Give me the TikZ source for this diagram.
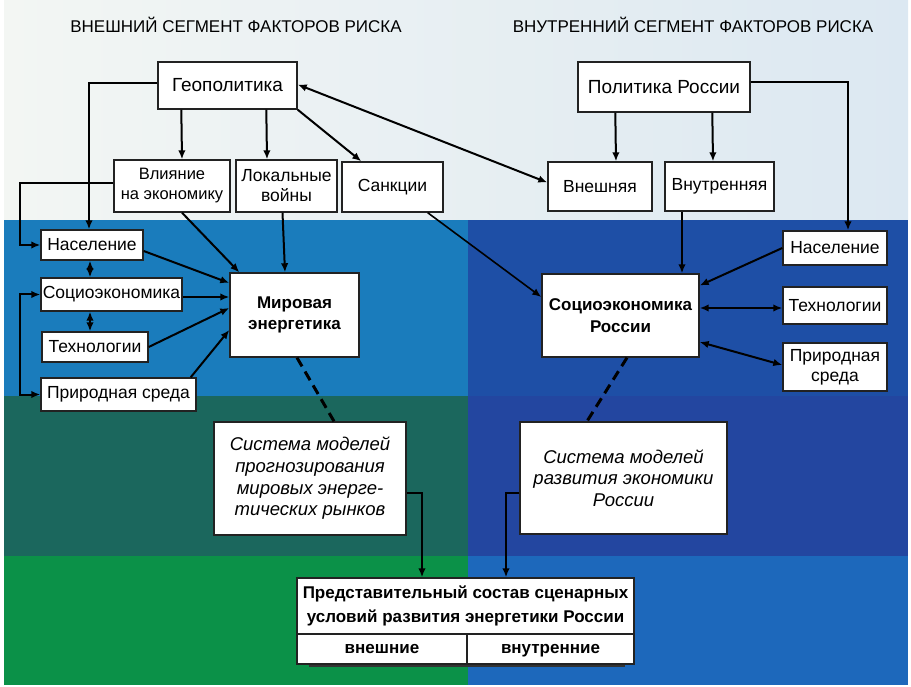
\documentclass[tikz,border=0pt]{standalone}
\usepackage{fontspec}
\setmainfont{Liberation Sans}
\usetikzlibrary{arrows.meta,calc}

\definecolor{topL}{HTML}{F3F6F3}
\definecolor{topR}{HTML}{DCE8F2}
\definecolor{midL}{HTML}{1A7CBC}
\definecolor{midR}{HTML}{1E4FA6}
\definecolor{lowL}{HTML}{1B675D}
\definecolor{lowR}{HTML}{2346A0}
\definecolor{botL}{HTML}{0B9148}
\definecolor{botR}{HTML}{1D68BB}
\definecolor{frame}{HTML}{222222}

\tikzset{
  box/.style={draw=frame, line width=1.4pt, fill=white, inner sep=0pt, align=center},
  txt/.style={font=\fontsize{17.5}{20}\selectfont},
  big/.style={font=\fontsize{19}{22}\selectfont},
  bold/.style={font=\fontsize{17}{21.7}\selectfont\bfseries},
  model/.style={font=\fontsize{18.5}{21.7}\selectfont\itshape},
  title/.style={font=\fontsize{17}{20}\selectfont},
  tip/.tip={Latex[length=9pt,width=7.5pt]},
  arr/.style={-tip, line width=2pt},
  arrtwo/.style={tip-tip, line width=2pt},
  link/.style={line width=3pt, dash pattern=on 10pt off 6pt},
}

\begin{document}
\begin{tikzpicture}[x=1pt,y=-1pt]
\useasboundingbox (0,0) rectangle (911,687);

% background bands
\shade[left color=topL, right color=topR] (4,0) rectangle (908,220);
\fill[midL] (4,220) rectangle (468,396);
\fill[midR] (468,220) rectangle (908,396);
\fill[lowL] (4,396) rectangle (468,556);
\fill[lowR] (468,396) rectangle (908,556);
\fill[botL] (4,556) rectangle (468,685);
\fill[botR] (468,556) rectangle (908,685);

% segment titles
\node[title] (tL) at (236,25) {ВНЕШНИЙ СЕГМЕНТ ФАКТОРОВ РИСКА};
\node[title] (tR) at (693,25) {ВНУТРЕННИЙ СЕГМЕНТ ФАКТОРОВ РИСКА};

% external segment
\node[box,big,minimum width=139pt,minimum height=47pt] (geo) at (227.5,85.5) {Геополитика};
\node[box,txt,minimum width=116pt,minimum height=52pt,font=\fontsize{16.5}{20}\selectfont] (vli) at (172,186) {Влияние\\на экономику};
\node[box,txt,minimum width=101pt,minimum height=52pt] (lok) at (286.5,186) {Локальные\\войны};
\node[box,txt,minimum width=101pt,minimum height=50pt] (san) at (392.5,187) {Санкции};
\node[box,txt,minimum width=102pt,minimum height=30pt] (nasL) at (92,245) {Население};
\node[box,txt,minimum width=141pt,minimum height=33pt] (socL) at (111.5,294.5) {Социоэкономика};
\node[box,txt,minimum width=106pt,minimum height=30pt] (tehL) at (95,347) {Технологии};
\node[box,txt,minimum width=155pt,minimum height=33pt] (priL) at (118.5,394.5) {Природная среда};
\node[box,bold,minimum width=129pt,minimum height=84pt] (mir) at (294.5,315) {Мировая\\энергетика};

% internal segment
\node[box,big,minimum width=172pt,minimum height=50pt] (polr) at (664,87) {Политика России};
\node[box,txt,minimum width=104pt,minimum height=49pt] (vnesh) at (600,186.5) {Внешняя};
\node[box,txt,minimum width=109pt,minimum height=49pt] (vnutr) at (719.5,186.5) {Внутренняя};
\node[box,bold,minimum width=157pt,minimum height=83pt] (socR) at (620.5,315.5) {Социоэкономика\\России};
\node[box,txt,minimum width=104pt,minimum height=34pt] (nasR) at (835,248) {Население};
\node[box,txt,minimum width=104pt,minimum height=37pt] (tehR) at (835,305.5) {Технологии};
\node[box,txt,minimum width=104pt,minimum height=48pt] (priR) at (835,367) {Природная\\среда};

% model systems
\node[box,model,minimum width=192pt,minimum height=113pt] (sysL) at (310,478.5)
  {Система моделей\\прогнозирования\\мировых энерге-\\тических рынков};
\node[box,model,minimum width=207pt,minimum height=112pt] (sysR) at (623.5,478)
  {Система моделей\\развития экономики\\России};

% scenario table with its shadow
\fill[black!80] (309,662) rectangle (625,667);
\node[box,bold,minimum width=337pt,minimum height=56pt,font=\fontsize{17}{23.3}\selectfont\bfseries] (rep) at (465.5,606)
  {Представительный состав сценарных\\условий развития энергетики России};
\node[box,bold,minimum width=170pt,minimum height=30pt,text height=12pt,text depth=3pt] (extL) at (382,649) {внешние};
\node[box,bold,minimum width=167pt,minimum height=30pt,text height=12pt,text depth=3pt] (extR) at (550.5,649) {внутренние};

% connectors of the external segment
\draw[arr] ($(geo.west)+(0,-2)$) -| ($(nasL.north)+(-3,0)$);
\draw[arr] ($(vli.west)+(0,-3)$) -- ++(-93,0) |- (nasL.west);
\draw[arrtwo] (socL.west) -- ++(-20,0) |- (priL.west);
\draw[arrtwo] ($(nasL.south)+(-2,0)$) -- ($(socL.north)+(-21.5,0)$);
\draw[arrtwo] ($(socL.south)+(-21.5,0)$) -- ($(tehL.north)+(-5,0)$);
\draw[arr] ($(nasL.east)+(0,6)$) -- ($(mir.west)+(0,-32)$);
\draw[arr] ($(socL.east)+(0,2.5)$) -- ($(mir.west)+(0,-18)$);
\draw[arr] (tehL.east) -- ($(mir.west)+(0,-7)$);
\draw[arr] ($(priL.north east)+(-6,0)$) -- ($(mir.west)+(0,15)$);
\draw[arr] ($(vli.south)+(10,0)$) -- ($(mir.north west)+(10,0)$);
\draw[arr] ($(lok.south)+(-4,0)$) -- ($(mir.north)+(-9.5,0)$);
\draw[arr] ($(geo.south west)+(24,0)$) -- ($(vli.north)+(10,0)$);
\draw[arr] ($(geo.south west)+(109,0)$) -- ($(lok.north)+(-19.5,0)$);
\draw[arr] (geo.south east) -- ($(san.north west)+(20,0)$);
\draw[arrtwo] ($(geo.east)+(0,-1)$) -- ($(vnesh.west)+(0,-4)$);

% connectors of the internal segment
\draw[arr] ($(polr.south west)+(38,0)$) -- ($(vnesh.north)+(16,0)$);
\draw[arr] ($(polr.south west)+(135,0)$) -- ($(vnutr.north)+(-6.5,0)$);
\draw[arr] ($(polr.east)+(0,-5)$) -| ($(nasR.north)+(13,0)$);
\draw[arr] ($(vnutr.south)+(-37.5,0)$) -- ($(socR.north)+(61.5,0)$);
\draw[arr, line width=1.6pt] ($(san.south east)+(-16,0)$) -- ($(socR.west)+(0,-18.5)$);
\draw[arr] (nasR.west) -- ($(socR.east)+(0,-30)$);
\draw[arrtwo] ($(socR.east)+(0,-7.5)$) -- ($(tehR.west)+(0,2.5)$);
\draw[arrtwo] ($(socR.east)+(0,26.5)$) -- ($(priR.west)+(0,-2)$);

% links to the model systems and to the scenario table
\draw[link] ($(mir.south)+(2.5,0)$) -- ($(sysL.north)+(24,0)$);
\draw[link] ($(socR.south)+(6.5,0)$) -- ($(sysR.north)+(-36.5,0)$);
\draw[arr] ($(sysL.east)+(0,14.5)$) -| ($(rep.north)+(-43.5,0)$);
\draw[arr] ($(sysR.west)+(0,15)$) -| ($(rep.north)+(40.5,0)$);
\end{tikzpicture}
\end{document}
